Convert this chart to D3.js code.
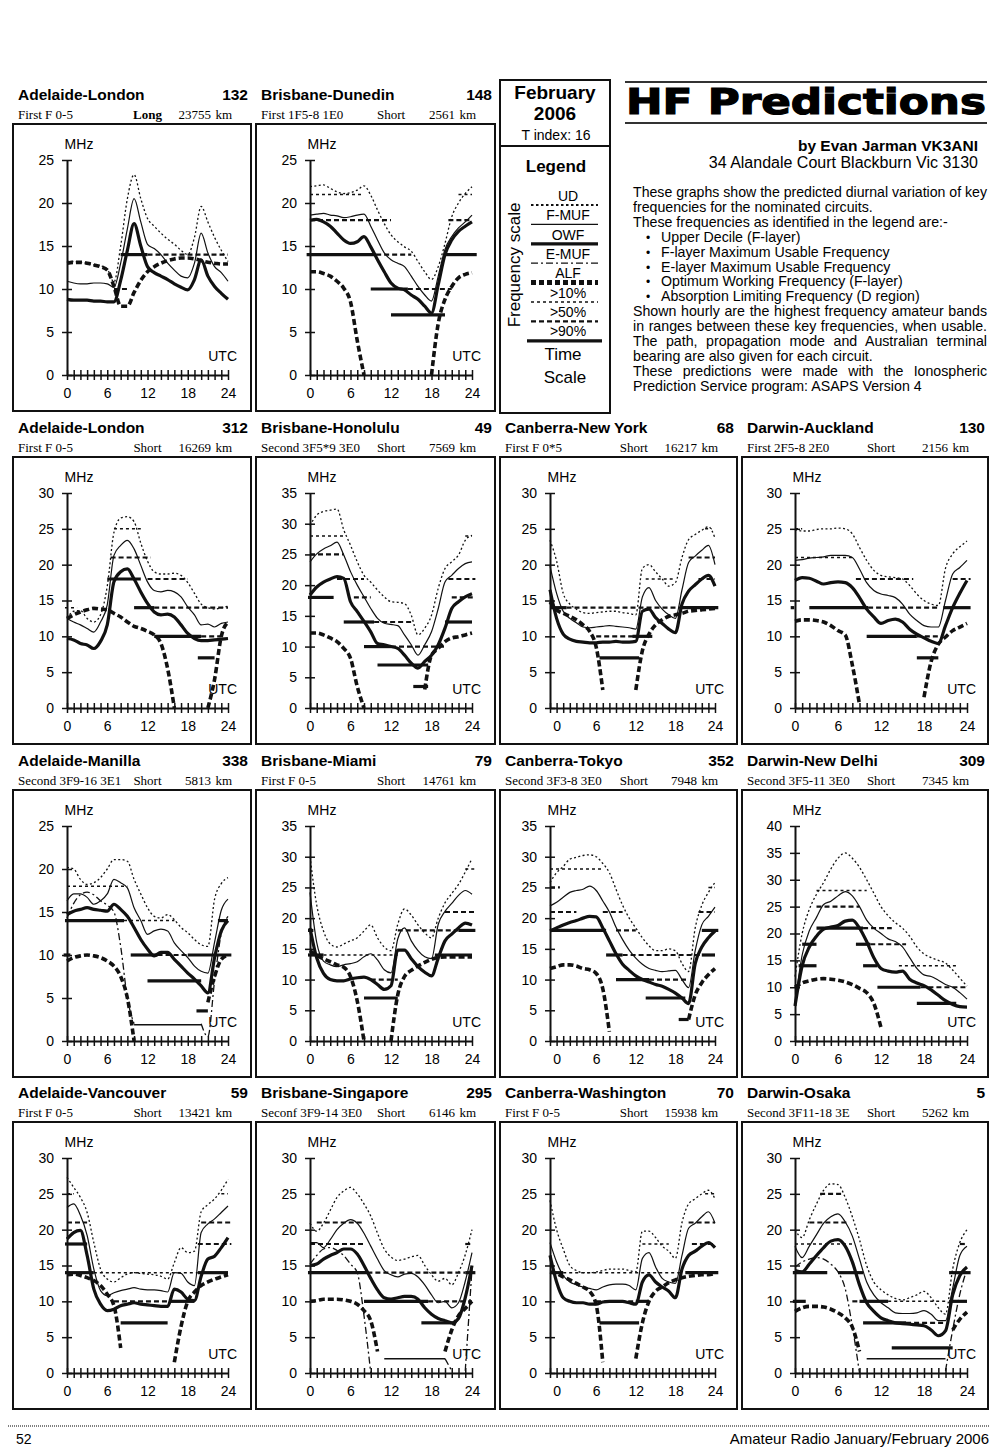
<!DOCTYPE html>
<html>
<head>
<meta charset="utf-8">
<script src="https://cdn.jsdelivr.net/npm/d3@7"></script>
<style>
body { margin: 0; background: #fff; }
text { font-family: "Liberation Sans", Arial, sans-serif; fill: #000; }
</style>
</head>
<body>
<svg id="page" width="1000" height="1450"></svg>
<script>
// ---- data: hourly values (MHz), hour 0..24 (Canberra circuits start at hour -1)
// band segments are [MHz, fromHour, toHour, kind] kind 0 thin, 1 >10%, 2 >50%, 3 >90%

// Adelaide-London 132 (long path)
const al132Ud = [13.2,13.2,13.1,13,12.8,12.7,12.3,10.8,15,20.5,23.3,20.5,18.2,17.3,16.5,15.8,15.2,14.5,14,16,19.6,17.8,16,14.5,13.2];
const al132Fmuf = [10.9,10.7,10.6,10.6,10.7,10.7,10.6,10.2,13,17,20.5,17.8,15.2,14.7,14,13,12.2,11.5,11.3,13,16.5,14.2,12.6,11.9,10.9];
const al132Owf = [8.8,8.7,8.7,8.7,8.6,8.6,8.5,8.5,11,14.5,17.6,15,12.6,11.9,11.5,11.1,10.6,10.2,9.9,11.1,13.4,11.5,10.3,9.5,8.8];
const al132Alf = [13,13.1,13.1,13,12.8,12.6,12.2,10.3,8,8,9.6,11,12,12.6,13,13.3,13.5,13.6,13.6,13.5,13.3,13.1,13,12.9,12.9];
const al132Bands = [[10,7,9,2],[14,8,12,3],[14,12,24,2]];

// Brisbane-Dunedin 148
const bd148Ud = [21.9,22,22.1,21.7,21.3,21.1,21.2,21.5,22,20.9,19.2,17.6,16.3,15.5,14.9,14.4,13.2,12,11.1,12.6,15.3,18.4,20,21.1,21.9];
const bd148Fmuf = [18.6,18.7,18.8,18.6,18.5,18.3,18.4,18.6,18.7,17.3,15.7,14.2,13.4,13,12.6,11.5,10.3,9.3,8.6,11.5,14.6,16.1,17.1,17.8,18.6];
const bd148Owf = [18,18.1,17.8,17.3,16.5,15.7,15.3,15.5,16.1,14.9,13.4,12,10.7,10.1,9.9,9.3,8.8,8,7.2,10.5,14,15.7,16.7,17.3,17.8];
const bd148Alf = [12,12,11.8,11.5,10.9,10.1,8.5,4,0,null,null,null,null,null,null,null,null,null,0,6,8.8,10.3,11.3,11.7,11.9];
const bd148Bands = [[21,0,8,1],[18,0,12,2],[14,-0.5,9.8,3],[14,9.8,15,2],[14,20,24.7,3],[10,9,14.5,3],[10,14.5,21,2],[7,12,20,3],[21,22,24,1],[18,20.5,24,2]];

// Adelaide-London 312
const al312Ud = [12.5,13.5,13.6,12.5,12,13,17,24.5,26.5,26.7,26,23,20.5,19,18.7,18.7,18.8,18.5,17.5,16,14.5,14,13.8,14,14.2];
const al312Fmuf = [12.5,12,11.6,11.1,10.6,12,14.4,21.3,22.7,23.4,22.2,19.9,17.6,16.4,16.2,16.4,16.2,15.5,14.1,13,11.6,11.7,11.3,11.8,12];
const al312Owf = [9.7,9.5,9,8.8,8.3,9.3,11.6,17.6,19,19.4,18,16.2,14.6,13.4,13,13.1,12.7,11.6,10.4,9.7,9.4,9.4,9.5,9.6,9.7];
const al312Alf = [12.5,13,13.4,13.7,13.9,13.8,13.7,13.2,12.7,12,11.4,11.1,10.7,10.2,9,5.5,0,null,null,null,null,0,4,10,12];
const al312Bands = [[25,7,11,1],[21,6.5,12.5,2],[18,6,11,3],[18,12,18,2],[14,-0.3,1.5,1],[14,10,13,3],[14,13,24,2],[10,13,20,3],[10,20,23,2],[7,19.5,22,3]];

// Brisbane-Honolulu 49
const bh49Ud = [29.7,31.4,32,32.2,32.4,29,26.5,23.8,21.6,20.5,19.2,18.1,17.3,17.2,17,15.1,11.9,13,15.1,19.5,22.7,23.8,24.9,27.3,28.1];
const bh49Fmuf = [23.8,25.1,25.9,26.4,27,24.9,22.2,20,18.1,16.2,14.6,13.8,13.6,13.4,11.9,10.3,8.6,10.3,12.4,16.2,20.5,21.6,22.7,23.5,23.8];
const bh49Owf = [18.4,19.7,20.5,21,21.4,21.1,17.3,15.7,14.1,12.4,10.5,10.3,10,9.7,8.6,7.3,6.5,7.6,8.6,10.3,13,16.2,17.3,18.1,18.6];
const bh49Alf = [12.2,12.2,11.9,11.4,10.8,9.7,8.1,3.5,0,null,null,null,null,null,null,null,null,3,8.6,9.7,10.8,11.4,11.6,11.9,12.2];
const bh49Bands = [[28,0,5,1],[25,0,5,2],[21,4,8,2],[18,-0.3,3.5,3],[18,6.5,9,2],[14,5,9.5,3],[14,9.5,15,2],[10,8,12,3],[10,12,20,2],[7,10,17.5,3],[3.5,15.3,17.5,3],[21,20.5,24.5,2],[18,21,24.5,2],[14,20,24,3],[28,23,24,1]];

// Canberra-New York 68 (hour -1..24)
const cny68Ud = [23.4,20.5,16,14.5,13.8,13.3,13.2,13.3,13.4,13.5,13.5,13.3,13.2,13,19.5,20,19,18,17,17.5,21,23.5,24.2,24.8,25.3,23.7];
const cny68Fmuf = [19.8,16,13.5,12.5,11.9,11.3,11.2,11.3,11.4,11.5,11.4,11.3,11.2,11,15.5,16.8,15,13.8,13,12.5,16.5,20.3,21.2,22,22.7,20];
const cny68Owf = [16.5,12.5,10.3,9.6,9.3,9.2,9.1,9.1,9.2,9.2,9.3,9.2,9.2,9.3,13.5,13.8,12.6,11.8,11,10.5,14.5,16.3,17.2,18,18.5,17];
const cny68Alf = [14.8,13.7,13.2,12.8,12.3,11.6,10.7,8.5,2.5,null,null,null,null,2.5,8,10.3,11.6,12.3,12.8,13,13.2,13.5,13.6,13.7,13.8,13.9];
const cny68Bands = [[14,-1,1.5,3],[14,1.5,19,2],[14,19,24.5,3],[10,6,12,2],[10,11.5,14.5,3],[7,6.5,12.5,3],[18,13.5,18,1],[21,20,24,2],[18,21.5,24,2],[25,22.5,23.5,1]];

// Darwin-Auckland 130
const da130Ud = [24.9,24.7,24.7,24.9,25,25,25.1,25,24.3,22.4,20.6,19.2,18.5,18.3,18.2,18,17.1,15.9,15,14.5,14.3,19.5,21.5,22.5,23.3];
const da130Fmuf = [20.6,20.7,20.9,21,21.1,21.3,21.3,21.3,21,19.4,17.5,16.4,15.9,15.7,15.4,14.5,13.1,12.2,11.5,11.3,11.3,15,18.7,19.6,20.6];
const da130Owf = [17.8,18.2,18.1,17.7,17.3,17.5,17.6,17.5,16.8,15.4,13.8,12.7,11.8,12.2,12.4,12,11,10.3,9.8,9.3,9,11.5,14,16,17.8];
const da130Alf = [12.1,12.3,12.3,12.2,12,11.5,10.8,10.2,6,0.5,null,null,null,null,null,null,null,null,1.5,6.5,8.9,9.9,10.8,11.3,11.8];
const da130Bands = [[25,0,1,1],[21,0,8,1],[18,8.5,16.5,2],[18,22,24.5,2],[14,-0.6,-0.1,3],[14,2,10.2,3],[14,10.2,20,2],[14,20.7,24.5,3],[10,10,17,3],[10,17,20,2],[7,17,20,3]];

// Adelaide-Manilla 338
const am338Ud = [20.2,20,18.8,18.2,18.4,19,20,21.1,21.1,20.9,18.8,17.1,15.5,14.5,14.3,14.7,14.1,13.2,12.6,11.8,11.2,11,16.5,18.3,19];
const am338Fmuf = [16.3,17.1,17.1,16.7,15.9,16.3,17.1,18.8,18.4,17.8,15.5,14,12.4,12.8,13,12.8,11.4,10.5,9.7,8.7,8.1,7.9,11.5,15.2,16.5];
const am338Owf = [14.7,15.1,15.3,15.5,15.3,15.2,15.1,15.9,15.3,14.5,13.2,11.8,10.7,9.9,10.3,10.3,9.5,8.7,7.9,7.2,6.4,5.6,9.7,12.8,14];
const am338Emuf = [14.3,16,17,17.3,17,16.3,15.8,15,11,5,2,null,null,null,null,null,null,null,null,null,2,0.5,7,12.5,14.5];
const am338Alf = [9.3,9.7,9.9,10,9.9,9.7,9.3,8.7,7.5,5,0,null,null,null,null,null,null,null,null,null,null,4.5,7.5,9.5,10];
const am338Bands = [[18,0,9,1],[14,-0.3,8.5,3],[14,8.5,16,1],[14,22.5,24,3],[10,-0.5,0.5,3],[10,9.5,13.5,3],[10,13.5,18,2],[10,18,24.5,3],[7,12,20,3],[3.5,19.3,21,3],[1.9,10,20,0]];

// Brisbane-Miami 79
const bm79Ud = [30,22.1,17.9,15.8,15.3,15.8,16.3,16.8,17.9,18.9,16.8,15.3,14.7,19,21.5,20.5,18.9,17.6,16.8,20,22.5,24,25.5,27.5,29.7];
const bm79Fmuf = [24.2,16,13,12.4,12.1,12.4,12.6,12.9,13.7,14.2,13.2,11.6,11.1,16.6,18.4,16.3,14.7,13.7,13.4,19,21.1,22.4,23.7,24.5,23.9];
const bm79Owf = [18.4,13.5,11,10,9.8,9.8,10.1,10.3,10.4,10,9.2,8.4,9,14.8,14.8,13.4,12.1,11.2,10.6,13.5,16.3,17.4,18.4,19.2,18.9];
const bm79Alf = [14.7,13.9,13.4,12.9,12.4,12,10.5,6.5,0,null,null,null,0,7.5,10.5,11.5,12.2,12.8,13.3,13.6,13.7,13.7,13.7,13.7,13.7];
const bm79Bands = [[18,-0.3,0.5,3],[14,-0.3,2,3],[14,2,13,1],[10,9,13,2],[7,8,13,3],[18,13,22,2],[18,22,24.5,3],[21,20,24.5,2],[28,23,24.5,1],[14,18.5,24,3]];

// Canberra-Tokyo 352 (hour -1..24)
const ct352Ud = [25.8,27.4,28.4,29.6,29.9,30.2,30.3,30,28.9,27.4,24.7,22.1,20,18.4,16.8,15.5,14.7,14.7,15,14.7,12.6,11.3,18.4,22.1,24.2,25.8];
const ct352Fmuf = [22,22.6,23.4,24.2,24.5,24.7,25.2,24.5,22.8,21,18.5,16.5,14.8,13.5,12.5,11.8,11.5,11.3,11.4,11.5,10,8.7,14.7,18.9,20.3,21.8];
const ct352Owf = [17.9,18.4,18.9,19.3,19.6,20,20.3,20.2,18.4,16.3,14.2,12.5,11.5,10.6,10,9.6,9.2,8.9,8.4,7.8,7,6.1,12.6,15.3,16.8,17.9];
const ct352Alf = [11.8,12.1,12.4,12.4,12.2,11.8,11.6,11,8.5,1.5,null,null,null,null,null,null,null,null,null,null,null,3.5,7.5,9.5,10.8,11.8];
const ct352Bands = [[28,-1,7,1],[25,-1,0.5,2],[21,-1,3,2],[21,7,10,2],[18,-1,7.5,3],[18,9,12,2],[14,7.5,10,3],[14,10,22,2],[14,22,24,3],[10,9,14,3],[10,14,20,2],[7,13.5,19.5,3],[3.5,18.5,20,3],[21,21.5,24,2],[18,22,24.5,3],[25,23,24,1]];

// Darwin-New Delhi 309
const dnd309Ud = [12,20,24.5,27.3,29.5,32,34,35,34,32.3,30,27.5,25,23.3,22,21,19.5,17.5,16.2,15.5,15,14.5,13.2,11.7,10.2];
const dnd309Fmuf = [7,16,20.5,23,25.4,26,27,27.8,27,25,22.5,21,20,19,18.5,17.5,15.5,13.5,12.3,12,11.3,10.5,10,9,7.8];
const dnd309Owf = [6.5,14,17.5,19.5,20.8,21.2,21.5,22.3,22.5,21,18.5,15.5,13.5,13,12.8,13,11.5,10.8,10.3,9.5,8.5,7.5,6.8,6.4,6.3];
const dnd309Alf = [10,10.8,11.2,11.5,11.6,11.5,11.3,11,10.5,9.8,9,7,2.5,null,null,null,null,null,null,null,null,null,null,null,null];
const dnd309Bands = [[28,3,10,1],[25,3,9,2],[21,3,9.5,3],[21,9.5,13.5,2],[18,1,3,3],[18,8.5,10.5,3],[18,10.5,15.5,2],[14,0.5,3,3],[14,9.5,11.5,3],[14,14.5,22.5,1],[10,11.5,17.5,3],[10,17.5,24,2],[7,17,22.5,3]];

// Adelaide-Vancouver 59
const av59Ud = [27.3,25.9,24.5,22.4,18.2,14.5,13.1,12.7,13.3,13.8,14,13.9,13.8,13.7,13.5,13.1,15.4,17.5,16.8,17,22.5,23.5,24.3,25.5,27];
const av59Fmuf = [23.1,23.6,22,19.2,14.5,11.5,10.8,11.2,11.5,11.7,11.9,11.7,11.6,11.6,11.5,11.3,14,13.9,12.7,12.2,19.6,20.8,21.5,22.4,23.3];
const av59Owf = [18.7,19.6,19.9,16.4,11.7,9.6,8.7,8.9,9.4,9.6,9.8,9.6,9.5,9.4,9.3,9.3,11.7,11.3,10.3,10.1,13.5,15.9,16.3,17.5,18.9];
const av59Alf = [13.7,13.8,13.6,13.3,12.9,12.2,11,9.4,3.5,null,null,null,null,null,null,null,1.5,6.5,10,11.3,12.2,12.7,13.1,13.4,13.7];
const av59Bands = [[25,0,1,1],[21,0,3,2],[18,-0.3,3,3],[14,-0.3,4,3],[14,4,19.5,1],[14,19.5,24,3],[10,7,15.5,2],[10,15.5,19,3],[7,8,15,3],[21,20,24.5,2],[18,19.5,24.5,2],[25,23,24,1]];

// Brisbane-Singapore 295
const bs295Ud = [20.9,19.8,20.9,22.7,24.5,25.4,25.9,25,23.6,21.9,19.5,17.3,16.2,15.7,15.9,16.2,16.4,15,13.7,12.8,13.2,12.3,14,16.5,20];
const bs295Fmuf = [18.2,18.2,17.5,18.6,20,20.9,21.4,20.9,19.5,17.7,15.9,14.3,13.7,13.4,13.8,13.9,13.4,12.3,10.9,9.8,10,9.1,9.8,12.8,16.8];
const bs295Owf = [15,15.2,15.9,16.4,16.8,17.3,17.3,16.6,15,13.2,11.6,10.5,10.3,10.5,10.7,10.7,10.3,9.1,8.2,7.6,7.3,7,7.6,10.5,15];
const bs295Emuf = [15.2,16.4,17.3,17.5,17.1,16.4,15.2,14,8,0,null,null,null,null,null,null,null,null,null,null,2,0.3,null,0.3,14.5];
const bs295Alf = [10,10.1,10.3,10.3,10.3,10.2,10,9.6,8.7,7.3,3,null,null,null,null,null,null,null,null,null,3,6,8,9,10];
const bs295Bands = [[21,1,8,2],[18,0,8,2],[14,-0.3,8.5,3],[14,8.5,23,2],[14,23,24.5,3],[10,8,17.5,3],[10,17.5,24,2],[7,16.5,21,3],[2,11,20,0],[18,23,24,2]];

// Canberra-Washington 70 (hour -1..24)
const cw70Ud = [24.1,20,17.3,15,14.3,14,14,14.1,14.3,14.5,14.5,14.5,14.3,14.1,19.8,19.8,18.9,17.7,17,16,21,23.6,24.3,25,25.5,24.3];
const cw70Fmuf = [18.2,15.5,13.6,12.7,12.3,12,11.8,11.6,12,12.3,12.4,12.4,12.2,11.6,16,16.8,14.8,13.2,12.7,12.5,16.4,20.2,20.9,21.8,22.5,20.9];
const cw70Owf = [16.4,12.7,10.5,10,9.8,9.8,9.6,9.6,9.9,10,10,10,9.8,9.6,12.7,13.7,12.7,12,11.4,10.5,14.5,16.4,17,17.7,18.2,17.5];
const cw70Alf = [14.1,13.9,13.4,13,12.5,12,11.4,9.5,1.5,null,null,null,null,2,7,10,11.4,12,12.6,13,13.3,13.5,13.6,13.7,13.7,13.9];
const cw70Bands = [[14,-1,1,3],[14,1,19,1],[14,19.5,24.5,3],[10,6,12,2],[10,12,14,3],[7,6.5,12.5,3],[18,13,17,1],[21,20,24,2],[18,20.5,24,2],[25,22.5,24,1]];

// Darwin-Osaka 5
const do5Ud = [20,18.9,21.4,23.6,25.5,26.4,26.3,24.5,21.8,18.6,15,12.7,11.6,10.9,10.4,10.2,10.5,10.9,11.4,10.5,9.1,8.2,14.5,18.2,20];
const do5Fmuf = [17.7,16.1,17.7,19.3,20.9,21.8,22.2,21.1,19.1,15.9,12.7,10.9,9.8,9.1,8.4,8.3,8.3,8.4,8.7,8.2,7.3,7.3,11.8,16.4,17.7];
const do5Owf = [14.3,14.1,15.2,16.4,17.5,18.4,18.6,17.7,15.5,12.3,9.8,8.6,7.7,7.3,7,6.9,6.8,6.7,6.6,6,5.2,5.9,10.9,13.6,14.8];
const do5Emuf = [14.8,15.5,15.9,16.1,15.9,15.2,14.1,11.8,6.5,0,null,null,null,null,null,null,null,null,null,null,null,0.3,6,11,14.5];
const do5Alf = [8.6,9.1,9.3,9.3,9.2,8.9,8.4,7.7,6.4,3,null,null,null,null,null,null,null,null,null,null,null,null,6,7.5,8.5];
const do5Bands = [[25,3.5,6.5,2],[21,2,7.5,2],[18,0,8,1],[14,-0.3,4.5,3],[14,6,9.5,3],[10,-0.3,1.5,3],[10,8,9,2],[10,9,13,3],[10,13,21,1],[10,21.5,24,3],[7,9.5,15.5,3],[7,15.5,21,2],[3.5,13.5,22,3],[2,10,21,0],[14,21.5,24.5,3],[18,23,24,2]];

const legendLabels = ["UD", "F-MUF", "OWF", "E-MUF", "ALF", ">10%", ">50%", ">90%"];
const legendKeys = ["ud", "fmuf", "owf", "emuf", "alf", "b1", "b2", "b3"];

const introLines = [
  "These graphs show the predicted diurnal variation of key",
  "frequencies for the nominated circuits.",
  "These frequencies as identified in the legend are:-",
  "Upper Decile (F-layer)",
  "F-layer Maximum Usable Frequency",
  "E-layer Maximum Usable Frequency",
  "Optimum Working Frequency (F-layer)",
  "Absorption Limiting Frequency (D region)",
  "Shown hourly are the highest frequency amateur bands",
  "in ranges between these key frequencies, when usable.",
  "The path, propagation mode and Australian terminal",
  "bearing are also given for each circuit.",
  "These predictions were made with the Ionospheric",
  "Prediction Service program: ASAPS Version 4"
];
const bulletLines = [3, 4, 5, 6, 7];
const justifiedLines = [0, 8, 9, 10, 12];

// table of circuits, built from the arrays above
const charts = [
  {row:0, col:0, title:"Adelaide-London", num:"132", mode:"First F 0-5", path:"Long", dist:"23755", ymax:25, h0:0, ud:al132Ud, fmuf:al132Fmuf, owf:al132Owf, alf:al132Alf, bands:al132Bands},
  {row:0, col:1, title:"Brisbane-Dunedin", num:"148", mode:"First 1F5-8 1E0", path:"Short", dist:"2561", ymax:25, h0:0, ud:bd148Ud, fmuf:bd148Fmuf, owf:bd148Owf, alf:bd148Alf, bands:bd148Bands},
  {row:1, col:0, title:"Adelaide-London", num:"312", mode:"First F 0-5", path:"Short", dist:"16269", ymax:30, h0:0, ud:al312Ud, fmuf:al312Fmuf, owf:al312Owf, alf:al312Alf, bands:al312Bands},
  {row:1, col:1, title:"Brisbane-Honolulu", num:"49", mode:"Second 3F5*9 3E0", path:"Short", dist:"7569", ymax:35, h0:0, ud:bh49Ud, fmuf:bh49Fmuf, owf:bh49Owf, alf:bh49Alf, bands:bh49Bands},
  {row:1, col:2, title:"Canberra-New York", num:"68", mode:"First F 0*5", path:"Short", dist:"16217", ymax:30, h0:-1, ud:cny68Ud, fmuf:cny68Fmuf, owf:cny68Owf, alf:cny68Alf, bands:cny68Bands},
  {row:1, col:3, title:"Darwin-Auckland", num:"130", mode:"First 2F5-8 2E0", path:"Short", dist:"2156", ymax:30, h0:0, ud:da130Ud, fmuf:da130Fmuf, owf:da130Owf, alf:da130Alf, bands:da130Bands},
  {row:2, col:0, title:"Adelaide-Manilla", num:"338", mode:"Second 3F9-16 3E1", path:"Short", dist:"5813", ymax:25, h0:0, ud:am338Ud, fmuf:am338Fmuf, owf:am338Owf, emuf:am338Emuf, alf:am338Alf, bands:am338Bands},
  {row:2, col:1, title:"Brisbane-Miami", num:"79", mode:"First F 0-5", path:"Short", dist:"14761", ymax:35, h0:0, ud:bm79Ud, fmuf:bm79Fmuf, owf:bm79Owf, alf:bm79Alf, bands:bm79Bands},
  {row:2, col:2, title:"Canberra-Tokyo", num:"352", mode:"Second 3F3-8 3E0", path:"Short", dist:"7948", ymax:35, h0:-1, ud:ct352Ud, fmuf:ct352Fmuf, owf:ct352Owf, alf:ct352Alf, bands:ct352Bands},
  {row:2, col:3, title:"Darwin-New Delhi", num:"309", mode:"Second 3F5-11 3E0", path:"Short", dist:"7345", ymax:40, h0:0, ud:dnd309Ud, fmuf:dnd309Fmuf, owf:dnd309Owf, alf:dnd309Alf, bands:dnd309Bands},
  {row:3, col:0, title:"Adelaide-Vancouver", num:"59", mode:"First F 0-5", path:"Short", dist:"13421", ymax:30, h0:0, ud:av59Ud, fmuf:av59Fmuf, owf:av59Owf, alf:av59Alf, bands:av59Bands},
  {row:3, col:1, title:"Brisbane-Singapore", num:"295", mode:"Seconf 3F9-14 3E0", path:"Short", dist:"6146", ymax:30, h0:0, ud:bs295Ud, fmuf:bs295Fmuf, owf:bs295Owf, emuf:bs295Emuf, alf:bs295Alf, bands:bs295Bands},
  {row:3, col:2, title:"Canberra-Washington", num:"70", mode:"First F 0-5", path:"Short", dist:"15938", ymax:30, h0:-1, ud:cw70Ud, fmuf:cw70Fmuf, owf:cw70Owf, alf:cw70Alf, bands:cw70Bands},
  {row:3, col:3, title:"Darwin-Osaka", num:"5", mode:"Second 3F11-18 3E", path:"Short", dist:"5262", ymax:30, h0:0, ud:do5Ud, fmuf:do5Fmuf, owf:do5Owf, emuf:do5Emuf, alf:do5Alf, bands:do5Bands}
];

// ---- layout
const colLeft = [13, 256, 500, 742];
const colWidth = [238, 239, 237, 246];
const rowTop = [124, 457, 790, 1122];
const plotSpan = [[54, 215], [54, 216], [50, 215], [53, 225]];
const boxHeight = 287;
const ink = "#111";
const serif = "'Liberation Serif', 'Times New Roman', serif";

const styles = {
    ud:   { w: 1.3, dash: "2,2.4" },
    fmuf: { w: 1.2, dash: null },
    owf:  { w: 3.2, dash: null },
    emuf: { w: 1.3, dash: "7,3,2,3" },
    alf:  { w: 3.6, dash: "6,3" },
    b0:   { w: 1.5, dash: null },
    b1:   { w: 1.5, dash: "3,3" },
    b2:   { w: 2.2, dash: "5,3" },
    b3:   { w: 3.2, dash: null }
};

const svg = d3.select("#page");
svg.append("rect").attr("width", 1000).attr("height", 1450).attr("fill", "#fff");

function styled(sel, s) {
    sel.attr("stroke", ink).attr("stroke-width", s.w).attr("fill", "none");
    if (s.dash) sel.attr("stroke-dasharray", s.dash);
    return sel;
}

function drawChart(c) {
    const left = colLeft[c.col], top = rowTop[c.row], w = colWidth[c.col];
    const g = svg.append("g");

    g.append("rect")
        .attr("x", left).attr("y", top)
        .attr("width", w).attr("height", boxHeight)
        .attr("fill", "none").attr("stroke", ink).attr("stroke-width", 2);

    // heading
    g.append("text").attr("x", left + 5).attr("y", top - 24)
        .attr("font-size", 15.5).attr("font-weight", "bold").text(c.title);
    g.append("text").attr("x", left + w - 3).attr("y", top - 24)
        .attr("text-anchor", "end").attr("font-size", 15.5).attr("font-weight", "bold").text(c.num);
    g.append("text").attr("x", left + 5).attr("y", top - 5)
        .attr("font-size", 13).style("font-family", serif).text(c.mode);
    g.append("text").attr("x", left + w * 0.565).attr("y", top - 5)
        .attr("text-anchor", "middle").attr("font-size", 13)
        .attr("font-weight", c.path === "Long" ? "bold" : "normal")
        .style("font-family", serif).text(c.path);
    g.append("text").attr("x", left + w - 40).attr("y", top - 5)
        .attr("text-anchor", "end").attr("font-size", 13).style("font-family", serif).text(c.dist);
    g.append("text").attr("x", left + w - 19).attr("y", top - 5)
        .attr("text-anchor", "end").attr("font-size", 13).style("font-family", serif).text("km");

    const x = d3.scaleLinear().domain([c.h0, 24])
        .range([left + plotSpan[c.col][0], left + plotSpan[c.col][1]]);
    const y = d3.scaleLinear().domain([0, c.ymax]).range([top + 251, top + 36]);

    // y axis, ticks crossing the line
    const ya = g.append("g").attr("transform", `translate(${x(c.h0)},0)`)
        .call(d3.axisLeft(y).tickValues(d3.range(0, c.ymax + 1, 5))
            .tickSize(5).tickSizeOuter(0).tickPadding(8));
    ya.selectAll(".tick line").attr("x1", 5).attr("stroke-width", 1.5).attr("stroke", ink);
    ya.select(".domain").attr("stroke-width", 2).attr("stroke", ink);
    ya.selectAll("text").attr("font-size", 14);

    // x axis, one tick per hour
    const xa = g.append("g").attr("transform", `translate(0,${y(0)})`)
        .call(d3.axisBottom(x).tickValues(d3.range(c.h0, 25))
            .tickSize(5).tickSizeOuter(0).tickPadding(8)
            .tickFormat(d => (d >= 0 && d % 6 === 0) ? d : ""));
    xa.selectAll(".tick line").attr("y1", -5).attr("stroke-width", 1.5).attr("stroke", ink);
    xa.select(".domain").attr("stroke-width", 2).attr("stroke", ink);
    xa.selectAll("text").attr("font-size", 14);

    g.append("text").attr("x", x(c.h0) + 12).attr("y", top + 25)
        .attr("text-anchor", "middle").attr("font-size", 14).text("MHz");
    g.append("text").attr("x", left + plotSpan[c.col][1] + 9).attr("y", top + 237)
        .attr("text-anchor", "end").attr("font-size", 14).text("UTC");

    // amateur band segments
    g.selectAll("line.band").data(c.bands).join("line")
        .attr("class", "band")
        .attr("x1", b => x(b[1])).attr("x2", b => x(b[2]))
        .attr("y1", b => y(b[0])).attr("y2", b => y(b[0]))
        .each(function(b) { styled(d3.select(this), styles["b" + b[3]]); });

    // key frequency curves
    const line = d3.line()
        .defined(d => d[1] !== null)
        .x(d => x(d[0])).y(d => y(d[1]))
        .curve(d3.curveMonotoneX);
    ["alf", "emuf", "ud", "fmuf", "owf"].forEach(k => {
        if (!c[k]) return;
        const pts = c[k].map((v, i) => [c.h0 + i, v]);
        styled(g.append("path").attr("d", line(pts)), styles[k]);
    });
}

charts.forEach(drawChart);

// ---- legend box
const lg = svg.append("g");
lg.append("rect").attr("x", 500).attr("y", 80).attr("width", 110).attr("height", 333)
    .attr("fill", "none").attr("stroke", ink).attr("stroke-width", 2);
lg.append("line").attr("x1", 500).attr("x2", 610).attr("y1", 146).attr("y2", 146)
    .attr("stroke", ink).attr("stroke-width", 2);
lg.append("text").attr("x", 555).attr("y", 99).attr("text-anchor", "middle")
    .attr("font-size", 19).attr("font-weight", "bold").text("February");
lg.append("text").attr("x", 555).attr("y", 120).attr("text-anchor", "middle")
    .attr("font-size", 19).attr("font-weight", "bold").text("2006");
lg.append("text").attr("x", 556).attr("y", 140).attr("text-anchor", "middle")
    .attr("font-size", 14).text("T index: 16");
lg.append("text").attr("x", 556).attr("y", 172).attr("text-anchor", "middle")
    .attr("font-size", 17).attr("font-weight", "bold").text("Legend");
lg.append("text").attr("transform", "translate(520,265) rotate(-90)")
    .attr("text-anchor", "middle").attr("font-size", 17).text("Frequency scale");

legendKeys.forEach((k, i) => {
    const ly = 205 + i * 19.4;
    const s = k === "alf" ? { w: 5, dash: "5,3" } : k === "ud" ? { w: 1.8, dash: "2.5,2.5" } : styles[k];
    const x1 = k === "b3" ? 527 : 531, x2 = k === "b3" ? 602 : 598;
    styled(lg.append("line").attr("x1", x1).attr("x2", x2).attr("y1", ly).attr("y2", ly), s);
    lg.append("text").attr("x", 568).attr("y", 201 + i * 19.3).attr("text-anchor", "middle")
        .attr("font-size", 14).text(legendLabels[i]);
});
lg.append("text").attr("x", 563).attr("y", 360).attr("text-anchor", "middle").attr("font-size", 17).text("Time");
lg.append("text").attr("x", 565).attr("y", 383).attr("text-anchor", "middle").attr("font-size", 17).text("Scale");

// ---- heading block
const hb = svg.append("g");
hb.append("line").attr("x1", 625).attr("x2", 987).attr("y1", 82).attr("y2", 82)
    .attr("stroke", "#333").attr("stroke-width", 2);
hb.append("line").attr("x1", 625).attr("x2", 987).attr("y1", 123).attr("y2", 123)
    .attr("stroke", "#333").attr("stroke-width", 2);
hb.append("text").attr("x", 626).attr("y", 114)
    .attr("font-size", 36).attr("font-weight", 900)
    .style("font-family", "'DejaVu Sans', sans-serif")
    .attr("stroke", "#000").attr("stroke-width", 1.2)
    .attr("textLength", 360).attr("lengthAdjust", "spacingAndGlyphs")
    .text("HF Predictions");
hb.append("text").attr("x", 978).attr("y", 151).attr("text-anchor", "end")
    .attr("font-size", 15.5).attr("font-weight", "bold").text("by Evan Jarman VK3ANI");
hb.append("text").attr("x", 978).attr("y", 168).attr("text-anchor", "end")
    .attr("font-size", 16).text("34 Alandale Court Blackburn Vic 3130");

// paragraph: justified lines get their word gaps widened to fill the column
const colRight = 987;
introLines.forEach((t, i) => {
    const ty = 197 + i * 14.9;
    const bullet = bulletLines.includes(i);
    if (bullet) {
        hb.append("text").attr("x", 646).attr("y", ty).attr("font-size", 12).text("\u2022");
    }
    const x0 = bullet ? 661 : 633;
    const el = hb.append("text").attr("x", x0).attr("y", ty)
        .attr("font-size", 14.2).text(t);
    if (justifiedLines.includes(i)) {
        const natural = el.node().getComputedTextLength();
        const gaps = t.split(" ").length - 1;
        const room = colRight - x0;
        if (natural < room) el.attr("word-spacing", (room - natural) / gaps);
        else el.attr("textLength", room).attr("lengthAdjust", "spacingAndGlyphs");
    }
});

// ---- footer
svg.append("line").attr("x1", 8).attr("x2", 990).attr("y1", 1426).attr("y2", 1426)
    .attr("stroke", "#555").attr("stroke-width", 1.5).attr("stroke-dasharray", "1,1");
svg.append("text").attr("x", 16).attr("y", 1444).attr("font-size", 14).text("52");
svg.append("text").attr("x", 989).attr("y", 1444).attr("text-anchor", "end")
    .attr("font-size", 15).text("Amateur Radio January/February 2006");
</script>
</body>
</html>
